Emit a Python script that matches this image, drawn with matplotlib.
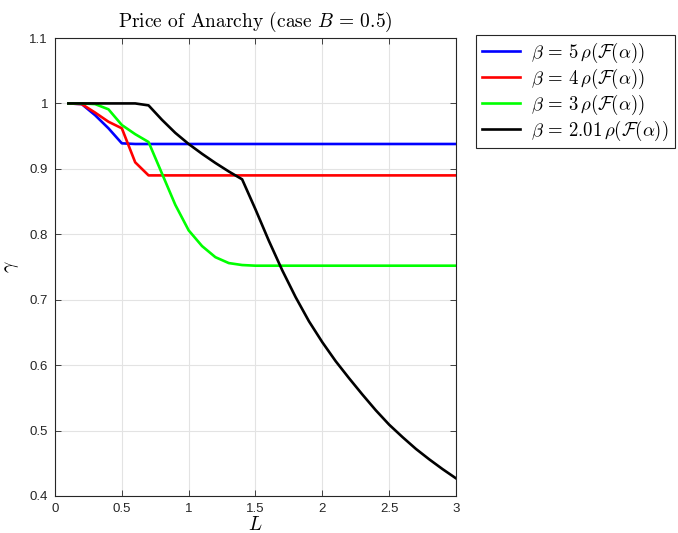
import matplotlib.pyplot as plt

plt.rcParams['mathtext.fontset'] = 'cm'
plt.rcParams['font.family'] = ['Liberation Sans', 'DejaVu Sans']

L = [0.1, 0.2, 0.3, 0.4, 0.5, 0.6, 0.7, 0.8, 0.9, 1.0,
     1.1, 1.2, 1.3, 1.4, 1.5, 1.6, 1.7, 1.8, 1.9, 2.0,
     2.1, 2.2, 2.3, 2.4, 2.5, 2.6, 2.7, 2.8, 2.9, 3.0]

# gamma for each beta
g_b5 = [1.0, 0.999, 0.982, 0.962, 0.939] + [0.938] * 25
g_b4 = [1.0, 0.999, 0.986, 0.972, 0.962, 0.910, 0.890] + [0.890] * 23
g_b3 = [1.0, 1.0, 0.999, 0.991, 0.967, 0.953, 0.941, 0.893, 0.845, 0.806,
        0.782, 0.765, 0.756, 0.753] + [0.752] * 16
g_b201 = [1.0, 1.0, 1.0, 1.0, 1.0, 1.0, 0.997, 0.975, 0.955, 0.938,
          0.923, 0.909, 0.896, 0.884, 0.838, 0.790, 0.745, 0.704, 0.667, 0.635,
          0.606, 0.580, 0.555, 0.531, 0.509, 0.490, 0.472, 0.456, 0.441, 0.427]

labels = [r'$\beta \,=\, 5\,\rho(\mathcal{F}(\alpha))$',
          r'$\beta \,=\, 4\,\rho(\mathcal{F}(\alpha))$',
          r'$\beta \,=\, 3\,\rho(\mathcal{F}(\alpha))$',
          r'$\beta \,=\, 2.01\,\rho(\mathcal{F}(\alpha))$']
colors = ['#0000ff', '#ff0000', '#00ff00', '#000000']

fig = plt.figure(figsize=(6.78, 5.33), dpi=100)
ax = fig.add_axes([55/678, 37/533, 401/678, 458/533])

for g, lab, c in zip([g_b5, g_b4, g_b3, g_b201], labels, colors):
    ax.plot(L, g, color=c, lw=1.9, label=lab)

ax.set_xlim(0, 3)
ax.set_ylim(0.4, 1.1)
ax.set_xticks([0, 0.5, 1, 1.5, 2, 2.5, 3])
ax.set_xticklabels(['0', '0.5', '1', '1.5', '2', '2.5', '3'])
ax.set_yticks([0.4, 0.5, 0.6, 0.7, 0.8, 0.9, 1.0, 1.1])
ax.set_yticklabels(['0.4', '0.5', '0.6', '0.7', '0.8', '0.9', '1', '1.1'])
ax.grid(True, color='#e3e3e3', lw=0.8)
ax.set_axisbelow(True)
ax.tick_params(direction='in', top=True, right=True, labelsize=9.5,
               colors='#262626', length=4, width=0.6, pad=5)
for s in ax.spines.values():
    s.set_color('#262626')
    s.set_linewidth(0.8)

ax.set_title(r'Price of Anarchy (case $B \,=\, 0.5$)', fontsize=14,
             family='cmr10', pad=8)
ax.set_xlabel(r'$L$', fontsize=14, labelpad=1)
ax.set_ylabel(r'$\gamma$', fontsize=14, labelpad=6)

leg = ax.legend(loc='upper left', bbox_to_anchor=(1.05, 1.007), fontsize=13.5,
                fancybox=False, framealpha=1, edgecolor='#262626',
                borderaxespad=0, handlelength=2.05, labelspacing=0.1,
                borderpad=0.3, handletextpad=0.6)
leg.get_frame().set_linewidth(0.8)

fig.savefig('out.png', dpi=100)
